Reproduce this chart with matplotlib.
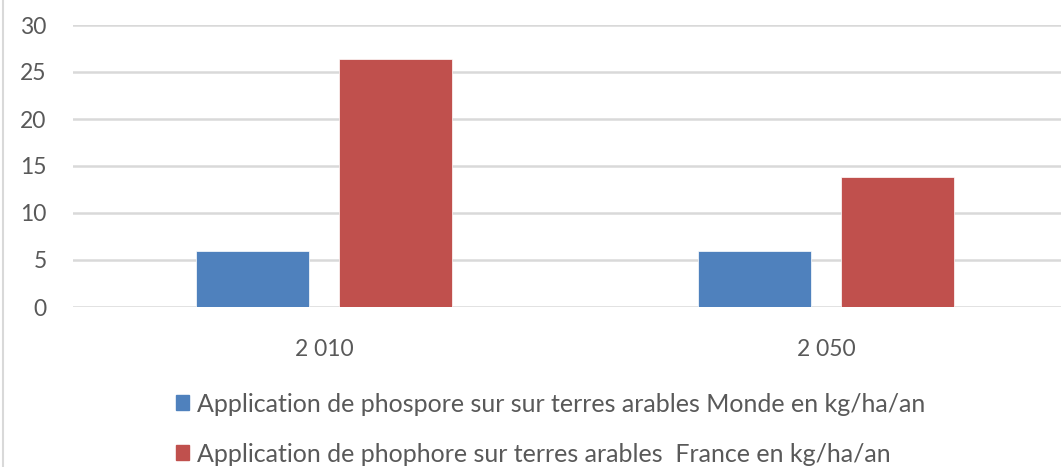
import numpy as np
import matplotlib.pyplot as plt
from matplotlib.patches import Patch
from matplotlib.lines import Line2D

years = ['2 010', '2 050']
monde = [6.0, 6.0]
france = [26.4, 13.8]
labels = ['Application de phospore sur sur terres arables Monde en kg/ha/an',
          'Application de phophore sur terres arables  France en kg/ha/an']

blue = '#4F81BD'
red = '#C0504D'
grey_txt = '#595959'

plt.rcParams['font.family'] = ['Lato', 'DejaVu Sans']

W, H = 1061, 467
fig = plt.figure(figsize=(W / 100, H / 100), dpi=100)
# axes runs past the right edge, as in the cropped original
ax = fig.add_axes([73 / W, 1 - 307 / H, 1004 / W, 282 / H])

x = np.arange(len(years))
bw = 0.224
ax.bar(x - 0.142, monde, bw, color=blue, edgecolor='white', linewidth=0.5, zorder=3)
ax.bar(x + 0.142, france, bw, color=red, edgecolor='white', linewidth=0.5, zorder=3)

ax.set_xlim(-0.5, 1.5)
ax.set_ylim(0, 30)
ax.set_yticks(range(0, 31, 5))
ax.set_xticks(x)
ax.set_xticklabels(years)
ax.yaxis.grid(True, color='#d9d9d9', linewidth=1.8, zorder=0)
for s in ax.spines.values():
    s.set_visible(False)
ax.tick_params(length=0, labelsize=16.5, colors=grey_txt)
ax.tick_params(axis='y', pad=19)
ax.tick_params(axis='x', pad=23)

handles = [Patch(color=blue), Patch(color=red)]
fig.legend(handles, labels, loc='upper left', bbox_to_anchor=(163 / W, 1 - 380 / H),
           frameon=False, fontsize=18, labelcolor=grey_txt, handlelength=0.55,
           handleheight=0.55, handletextpad=0.3, labelspacing=1.08, borderpad=0)

fig.add_artist(Line2D([2.5 / W, 2.5 / W], [0, 1], color='#d9d9d9', linewidth=1.5))

fig.savefig('out.png', dpi=100)
